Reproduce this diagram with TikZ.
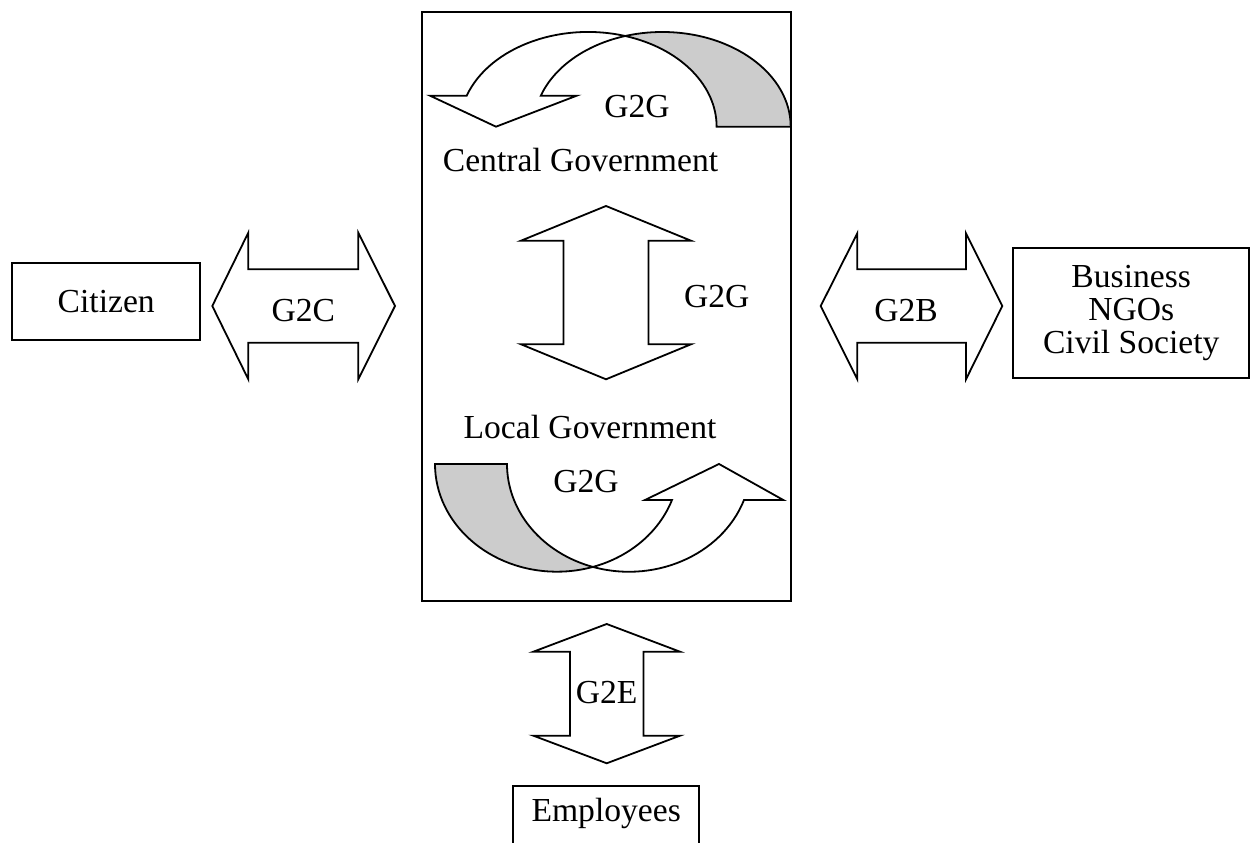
\documentclass[tikz,border=0pt]{standalone}
\usepackage{fontspec}
\setmainfont{Liberation Serif}
\begin{document}
\begin{tikzpicture}[x=1pt,y=1pt,
  line width=1.8pt, line join=miter,
  lbl/.style={font=\fontsize{33.6}{33}\selectfont, inner sep=0pt, align=center},
  boxnode/.style={draw, inner sep=0pt, font=\fontsize{33.6}{33}\selectfont, align=center},
  arrowshape/.style={draw, fill=white},
  backfill/.style={fill=black!20}]
\useasboundingbox (0,0) rectangle (1250,843);
\clip (0,0) rectangle (1250,843);

% government frame
\node[draw, minimum width=369pt, minimum height=589pt, inner sep=0pt] (gov) at (606.5,536.5) {};

% outer parties
\node[boxnode, minimum width=187.7pt, minimum height=77.3pt] (citizen) at (106.2,541.6) {Citizen};
\node[boxnode, minimum width=235.7pt, minimum height=130pt] (business) at (1131.2,529.7) {Business\\NGOs\\Civil Society};
\node[boxnode, minimum width=185.7pt, minimum height=120pt, anchor=north] (employees) at (606.2,58) {};
\node[lbl] (emptext) at (606.2,30) {Employees};

% G2C double arrow
\draw[arrowshape] (212.3,537) -- (248.3,610.3) -- (248.3,573.7) -- (358.3,573.7) -- (358.3,610.3)
  -- (395,537) -- (358.3,463.7) -- (358.3,500.3) -- (248.3,500.3) -- (248.3,463.7) -- cycle;
\node[lbl] (g2c) at (303.3,532) {G2C};

% G2B double arrow
\draw[arrowshape] (820.7,537) -- (857.3,609.7) -- (857.3,573.7) -- (966,573.7) -- (966,609.7)
  -- (1002.3,537) -- (966,463.7) -- (966,500.3) -- (857.3,500.3) -- (857.3,463.7) -- cycle;
\node[lbl] (g2b) at (906,532) {G2B};

% G2G vertical double arrow between central and local government
\draw[arrowshape] (606,637) -- (691,602.3) -- (648.5,602.3) -- (648.5,498.7) -- (691,498.7)
  -- (606,463.7) -- (521,498.7) -- (563.5,498.7) -- (563.5,602.3) -- (521,602.3) -- cycle;
\node[lbl] (g2gmid) at (716.7,546) {G2G};

% G2E double arrow
\draw[arrowshape] (606.7,219) -- (680,191.3) -- (643.4,191.3) -- (643.4,107.3) -- (680,107.3)
  -- (606.7,79.7) -- (533.4,107.3) -- (570,107.3) -- (570,191.3) -- (533.4,191.3) -- cycle;
\node[lbl] (g2e) at (606.7,150) {G2E};

% curved arrow on top (central government)
\fill[backfill] (625.2,807.0) arc[start angle=106.7, end angle=0, x radius=128.5pt, y radius=94.7pt]
  -- (716.7,716.3) arc[start angle=0, end angle=73.3, x radius=128.5pt, y radius=94.7pt] -- cycle;
\draw (466.7,747.3) arc[start angle=160.9, end angle=0, x radius=128.5pt, y radius=94.7pt]
  -- (790.7,716.3) arc[start angle=0, end angle=160.9, x radius=128.5pt, y radius=94.7pt]
  -- (576.7,747.3) -- (496,716.3) -- (430,747.3) -- cycle;
\node[lbl] (g2gtop) at (637,736) {G2G};
\node[lbl] (central) at (580.5,683) {Central Government};

% curved arrow at the bottom (local government)
\fill[backfill] (435,379) arc[start angle=180, end angle=287.2, x radius=122pt, y radius=107.7pt]
  arc[start angle=252.8, end angle=180, x radius=122pt, y radius=107.7pt] -- cycle;
\draw (435,379) arc[start angle=180, end angle=340.5, x radius=122pt, y radius=107.7pt]
  -- (645,343) -- (719,379) -- (783.3,343) -- (744,343)
  arc[start angle=340.5, end angle=180, x radius=122pt, y radius=107.7pt] -- cycle;
\node[lbl] (g2gbot) at (586,361) {G2G};
\node[lbl] (local) at (590,416) {Local Government};
\end{tikzpicture}
\end{document}
